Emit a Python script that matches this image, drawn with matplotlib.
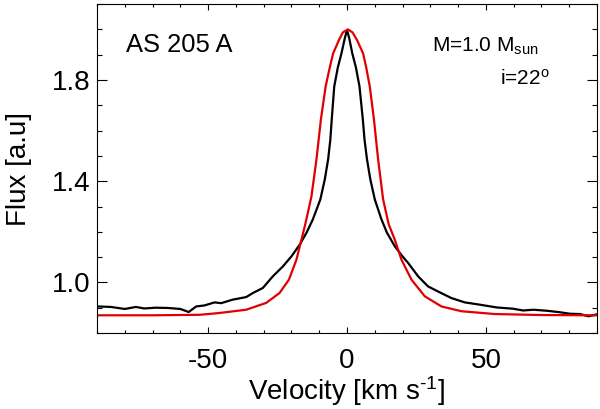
import numpy as np
import matplotlib
matplotlib.use("Agg")
import matplotlib.pyplot as plt
from matplotlib.ticker import MultipleLocator, FixedLocator

plt.rcParams['font.family'] = ['Liberation Sans', 'DejaVu Sans']
plt.rcParams['mathtext.fontset'] = 'custom'
plt.rcParams['mathtext.rm'] = 'Liberation Sans'
plt.rcParams['mathtext.it'] = 'Liberation Sans'
plt.rcParams['mathtext.default'] = 'rm'
plt.rcParams['axes.unicode_minus'] = False

# observed line profile (black)
vel_obs = [-90, -85, -80, -76, -73, -69, -64.5, -60, -57, -54.3, -51.3, -47.7,
           -45.3, -41.1, -36.3, -33.9, -30.3, -26.7, -23.1, -20.0, -17.1,
           -14.6, -12.3, -9.6, -8.0, -6.8, -6.0, -5.5, -4.6, -3.3, -2.0, -0.8,
           0, 0.8, 1.9, 3.2, 4.5, 5.7, 6.3, 7.2, 8.4, 10.0, 12.4, 14.4, 17.2,
           19.8, 22.0, 25.6, 29.2, 32.8, 37.6, 42.4, 47.8, 53.9, 59.8, 63.4,
           67.1, 71.9, 76.7, 80.3, 83.9, 86.9, 89.3, 90]
flux_obs = [0.905, 0.903, 0.895, 0.903, 0.897, 0.900, 0.899, 0.895, 0.883,
            0.905, 0.909, 0.921, 0.918, 0.932, 0.942, 0.958, 0.978, 1.024,
            1.063, 1.103, 1.148, 1.196, 1.249, 1.328, 1.407, 1.486, 1.565,
            1.644, 1.774, 1.850, 1.905, 1.965, 1.997, 1.965, 1.905, 1.850,
            1.774, 1.644, 1.565, 1.486, 1.407, 1.328, 1.249, 1.196, 1.143,
            1.105, 1.077, 1.024, 0.984, 0.964, 0.938, 0.921, 0.912, 0.901,
            0.896, 0.889, 0.892, 0.888, 0.882, 0.876, 0.875, 0.866, 0.872,
            0.874]

# model profile (red)
vel_mod = [-90, -70, -53, -46, -36.3, -29.1, -24.3, -20.9, -18.2, -16.4,
           -15.2, -14.0, -12.8, -11.0, -9.4, -7.7, -6.3, -5.0, -2.9, -1.5,
           0.3, 2.0, 3.6, 5.8, 7.0, 8.2, 9.7, 11.2, 13.0, 15.0, 17.2, 19.6,
           23.2, 28.0, 34.0, 41.2, 53.2, 70, 90]
flux_mod = [0.870, 0.870, 0.872, 0.879, 0.892, 0.919, 0.958, 1.011, 1.090,
            1.169, 1.222, 1.280, 1.340, 1.486, 1.644, 1.774, 1.845, 1.905,
            1.958, 1.988, 2.000, 1.988, 1.958, 1.905, 1.845, 1.774, 1.644,
            1.486, 1.328, 1.230, 1.169, 1.090, 1.011, 0.945, 0.905, 0.886,
            0.875, 0.871, 0.870]

y_ticks = [1.0, 1.4, 1.8]

fig = plt.figure(figsize=(6, 4.09), dpi=100)
ax = fig.add_axes([0.1617, 0.1858, 0.8333, 0.8042])

ax.plot(vel_obs, flux_obs, color='black', lw=1.6)
ax.plot(vel_mod, flux_mod, color='#e00000', lw=1.6)

ax.set_xlim(-90, 90)
ax.set_ylim(0.8, 2.1)
ax.xaxis.set_major_locator(MultipleLocator(50))
ax.xaxis.set_minor_locator(MultipleLocator(10))
ax.yaxis.set_major_locator(FixedLocator(y_ticks))
ax.yaxis.set_minor_locator(MultipleLocator(0.1))
ax.yaxis.set_major_formatter(plt.FormatStrFormatter('%.1f'))

ax.tick_params(which='both', direction='in', top=True, right=True,
               labelsize=20, width=0.8)
ax.tick_params(axis='x', which='major', length=4, pad=11)
ax.tick_params(axis='x', which='minor', length=2)
ax.tick_params(axis='y', which='major', length=7, pad=5)
ax.tick_params(axis='y', which='minor', length=3.5)
for s in ax.spines.values():
    s.set_linewidth(0.8)

ax.set_xlabel(r'Velocity [km s$^{\text{-1}}$]', fontsize=20, labelpad=0)
ax.set_ylabel('Flux [a.u]', fontsize=20, labelpad=14)

ax.text(0.057, 0.855, 'AS 205 A', transform=ax.transAxes, fontsize=18.4)
ax.text(0.67, 0.855, r'M=1.0 M$_{\rm sun}$', transform=ax.transAxes, fontsize=15)
ax.text(0.905, 0.755, r'i=22$^{\rm o}$', transform=ax.transAxes, fontsize=15,
        ha='right')

fig.savefig('out.png', dpi=100)
